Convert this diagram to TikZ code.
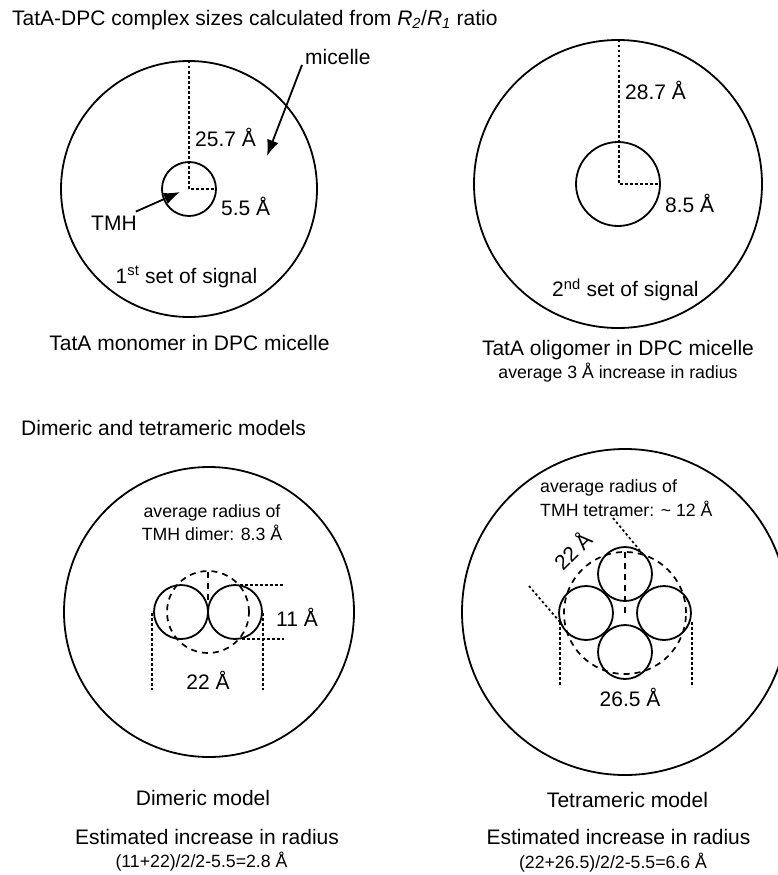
\documentclass[tikz,border=0pt]{standalone}
\usepackage{fontspec}
\setmainfont{Liberation Sans}
\usetikzlibrary{arrows.meta}
\newcommand\mainsz{\fontsize{21}{25}\selectfont}
\newcommand\smallsz{\fontsize{17.7}{21}\selectfont}
\begin{document}
\begin{tikzpicture}[x=1pt,y=-1pt,
  every node/.style={inner sep=0pt},
  lbl/.style={font=\mainsz},
  sml/.style={font=\smallsz},
  ring/.style={draw, line width=1.8pt},
  dotln/.style={line width=1.7pt, dash pattern=on 2.5pt off 2.5pt},
  dashln/.style={line width=1.7pt, dash pattern=on 6pt off 5pt},
  ptr/.style={line width=1.8pt, -{Latex[length=16pt,width=12pt]}}]
\useasboundingbox (0,0) rectangle (778,875);
\clip (0,0) rectangle (778,875);

% title
\node[lbl, anchor=west] (title) at (12,20) {TatA-DPC complex sizes calculated from \textit{R}\textsubscript{\textit{2}}/\textit{R}\textsubscript{\textit{1}} ratio};

% ---------- top left: monomer ----------
\draw[ring] (189,189) circle[radius=128pt];
\draw[ring] (189,189) circle[radius=27pt];
\draw[dotln] (189,61) -- (189,189) -- (215,189);
\node[lbl, anchor=west] (r1) at (195,137) {25.7 Å};
\node[lbl, anchor=west] (r2) at (221,206) {5.5 Å};
\node[lbl, anchor=west] (tmh) at (91,223) {TMH};
\node[lbl, anchor=west] (mic) at (305,57) {micelle};
\coordinate (micpt) at (267,156);
\coordinate (tmhpt) at (180,192);
\draw[ptr] (mic.south west) ++(-3,0) -- (micpt);
\draw[ptr] (tmh.north east) ++(-1,-4) -- (tmhpt);
\node[lbl] (set1) at (186.5,277) {1\textsuperscript{st} set of signal};
\node[lbl] (cap1) at (189.5,343) {TatA monomer in DPC micelle};

% ---------- top right: oligomer ----------
\draw[ring] (618,184) circle[radius=144pt];
\draw[ring] (618,184) circle[radius=42pt];
\draw[dotln] (619,40) -- (619,184) -- (660,184);
\node[lbl, anchor=west] (r3) at (625,90) {28.7 Å};
\node[lbl, anchor=west] (r4) at (665,203) {8.5 Å};
\node[lbl, anchor=west] (set2) at (552,290) {2\textsuperscript{nd} set of signal};
\node[lbl] (cap2) at (618,350) {TatA oligomer in DPC micelle};
\node[sml] (cap2b) at (618,373) {average 3 Å increase in radius};

% ---------- bottom left: dimer ----------
\node[lbl, anchor=west] (sub) at (21,428) {Dimeric and tetrameric models};
\draw[ring] (209,612) circle[radius=145pt];
\draw[ring] (181,612) circle[radius=27pt];
\draw[ring] (235,612) circle[radius=27pt];
\draw[dashln] (208,612) circle[radius=41pt];
\draw[dashln] (208,572) -- (208,612);
\draw[dotln] (240,585) -- (283,585);
\draw[dotln] (242,639) -- (284,639);
\draw[dotln] (152,613) -- (152,690);
\draw[dotln] (263,613) -- (263,690);
\node[lbl, anchor=west] (d11) at (276,617) {11 Å};
\node[lbl] (d22) at (208,680) {22 Å};
\node[sml] (dav1) at (212,513) {average radius of};
\node[sml] (dav2) at (212,533) {TMH dimer: 8.3 Å};
\node[lbl] (dcap) at (203,798) {Dimeric model};
\node[lbl] (dest) at (207,837) {Estimated increase in radius};
\node[sml] (dform) at (201.5,862) {(11+22)/2/2-5.5=2.8 Å};

% ---------- bottom right: tetramer ----------
\draw[ring] (625,612) circle[radius=163pt];
\draw[ring] (625,574) circle[radius=27pt];
\draw[ring] (586,613) circle[radius=27pt];
\draw[ring] (664,613) circle[radius=27pt];
\draw[ring] (625,652) circle[radius=27pt];
\draw[dashln] (625,613) circle[radius=61pt];
\draw[dashln] (625,552) -- (625,613);
\draw[dotln] (613,518) -- (642,553);
\draw[dotln] (529,586) -- (560,622);
\draw[dotln] (560,622) -- (560,687);
\draw[dotln] (692,622) -- (692,687);
\node[lbl] (t265) at (630,697) {26.5 Å};
\node[lbl, rotate=45] (t22) at (572,550) {22 Å};
\node[sml, anchor=west] (tav1) at (540,488) {average radius of};
\node[sml, anchor=west] (tav2) at (540,509) {TMH tetramer: \textasciitilde{} 12 Å};
\node[lbl] (tcap) at (627.5,800) {Tetrameric model};
\node[lbl] (test) at (618.5,837) {Estimated increase in radius};
\node[sml] (tform) at (613,863) {(22+26.5)/2/2-5.5=6.6 Å};
\end{tikzpicture}
\end{document}
